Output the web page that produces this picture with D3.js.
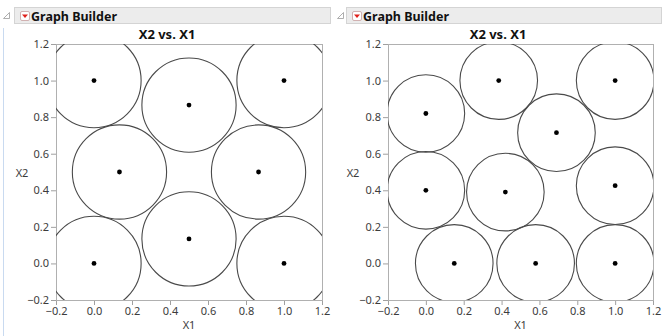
<!DOCTYPE html>
<html>
<head>
<meta charset="utf-8">
<script src="https://cdn.jsdelivr.net/npm/d3@7"></script>
<style>
  html, body { margin: 0; padding: 0; background: #ffffff; }
  svg { display: block; }
  text { font-family: "Noto Sans", "Open Sans", "DejaVu Sans", sans-serif; }
</style>
</head>
<body>
<svg id="chart" width="666" height="336"></svg>
<script>
// Point sets for the two packings (X1, X2)
const leftX1 = [0, 0.5, 1, 0.134, 0.866, 0, 0.5, 1];
const leftX2 = [1, 0.866, 1, 0.5, 0.5, 0, 0.134, 0];
const rightX1 = [0, 0.385, 1, 0.69, 0, 0.42, 1, 0.15, 0.58, 1];
const rightX2 = [0.82, 1, 1, 0.715, 0.40, 0.39, 0.425, 0, 0, 0];
// Circle radius around each point, in X1 units
const leftRadius = 0.248;
const rightRadius = 0.205;

const tickValues = [-0.2, 0, 0.2, 0.4, 0.6, 0.8, 1.0, 1.2];
const axisDomain = [-0.2, 1.2];
const titleText = "X2 vs. X1";
const headerText = "Graph Builder";
const xLabel = "X1";
const yLabel = "X2";

const svg = d3.select("#chart");

// faint vertical outline rule on the left edge
svg.append("line").attr("x1", 3.5).attr("x2", 3.5).attr("y1", 28).attr("y2", 336)
  .attr("stroke", "#c9daf0").attr("stroke-width", 1);

function header(x0, x1, barStart) {
  const g = svg.append("g");
  // disclosure triangle
  g.append("path")
    .attr("d", `M${x0 + 7.5},${12.5} L${x0 + 7.5},${18.5} L${x0 + 1.5},${18.5} Z`)
    .attr("fill", "#ffffff").attr("stroke", "#9a9a9a").attr("stroke-width", 0.8);
  g.append("rect").attr("x", barStart + 0.5).attr("y", 7.5)
    .attr("width", x1 - barStart).attr("height", 16)
    .attr("fill", "#ececec").attr("stroke", "#d4d4d4");
  // red menu button
  g.append("rect").attr("x", barStart + 6.5).attr("y", 11.5).attr("width", 9).attr("height", 9)
    .attr("rx", 1.5).attr("fill", "#ffffff").attr("stroke", "#c8a0a0").attr("stroke-width", 0.8);
  g.append("path")
    .attr("d", `M${barStart + 8},${14.5} L${barStart + 14},${14.5} L${barStart + 11},${18} Z`)
    .attr("fill", "#e0201b");
  g.append("text").attr("x", barStart + 17).attr("y", 20.5)
    .attr("font-size", 12.5).attr("font-weight", "bold").attr("fill", "#111")
    .text(headerText);
}

function panel(opts) {
  const { xs, ys, radius, xr, yr, titleX, yLabelX, id } = opts;
  const x = d3.scaleLinear().domain(axisDomain).range(xr);
  const y = d3.scaleLinear().domain(axisDomain).range(yr);
  const g = svg.append("g");

  g.append("text").attr("x", titleX).attr("y", 38.5)
    .attr("text-anchor", "middle").attr("font-size", 13).attr("font-weight", "bold")
    .attr("fill", "#111").text(titleText);

  g.append("clipPath").attr("id", id).append("rect")
    .attr("x", xr[0]).attr("y", yr[1]).attr("width", xr[1] - xr[0]).attr("height", yr[0] - yr[1]);

  // axes
  const fmt = d3.format(".1f");
  const xAxis = g.append("g").attr("transform", `translate(0,${yr[0]})`)
    .call(d3.axisBottom(x).tickValues(tickValues).tickFormat(fmt).tickSizeOuter(0).tickSize(5));
  const yAxis = g.append("g").attr("transform", `translate(${xr[0]},0)`)
    .call(d3.axisLeft(y).tickValues(tickValues).tickFormat(fmt).tickSizeOuter(0).tickSize(5));
  [xAxis, yAxis].forEach(a => {
    a.select(".domain").remove();
    a.selectAll("line").attr("stroke", "#a0a0a0");
    a.selectAll("text").attr("fill", "#3c3c3c").attr("font-size", 11)
      .attr("font-family", "'Noto Sans', 'Open Sans', sans-serif");
  });
  xAxis.selectAll("text").attr("dy", "0.71em").attr("y", 7);
  yAxis.selectAll("text").attr("x", -7);

  // plot frame
  g.append("rect").attr("x", xr[0] + 0.5).attr("y", yr[1] + 0.5)
    .attr("width", xr[1] - xr[0]).attr("height", yr[0] - yr[1])
    .attr("fill", "none").attr("stroke", "#b0b0b0");

  const pts = xs.map((v, i) => ({ x1: v, x2: ys[i] }));
  const rPx = x(radius) - x(0);
  const marks = g.append("g").attr("clip-path", `url(#${id})`);
  marks.selectAll("circle.ring").data(pts).join("circle").attr("class", "ring")
    .attr("cx", d => x(d.x1)).attr("cy", d => y(d.x2)).attr("r", rPx)
    .attr("fill", "none").attr("stroke", "#4a4a4a").attr("stroke-width", 1.1);
  marks.selectAll("circle.dot").data(pts).join("circle").attr("class", "dot")
    .attr("cx", d => x(d.x1)).attr("cy", d => y(d.x2)).attr("r", 2.4)
    .attr("fill", "#000");

  g.append("text").attr("x", (xr[0] + xr[1]) / 2).attr("y", 329)
    .attr("text-anchor", "middle").attr("font-size", 11).attr("fill", "#3c3c3c").text(xLabel);
  g.append("text").attr("x", yLabelX).attr("y", 176.5)
    .attr("text-anchor", "middle").attr("font-size", 11).attr("fill", "#3c3c3c").text(yLabel);
}

header(2, 330, 14);
header(336, 661, 346);

panel({ xs: leftX1, ys: leftX2, radius: leftRadius, xr: [56, 322], yr: [300, 44],
        titleX: 167, yLabelX: 22, id: "clipL" });
panel({ xs: rightX1, ys: rightX2, radius: rightRadius, xr: [388, 653], yr: [300, 44],
        titleX: 498, yLabelX: 353, id: "clipR" });
</script>
</body>
</html>
